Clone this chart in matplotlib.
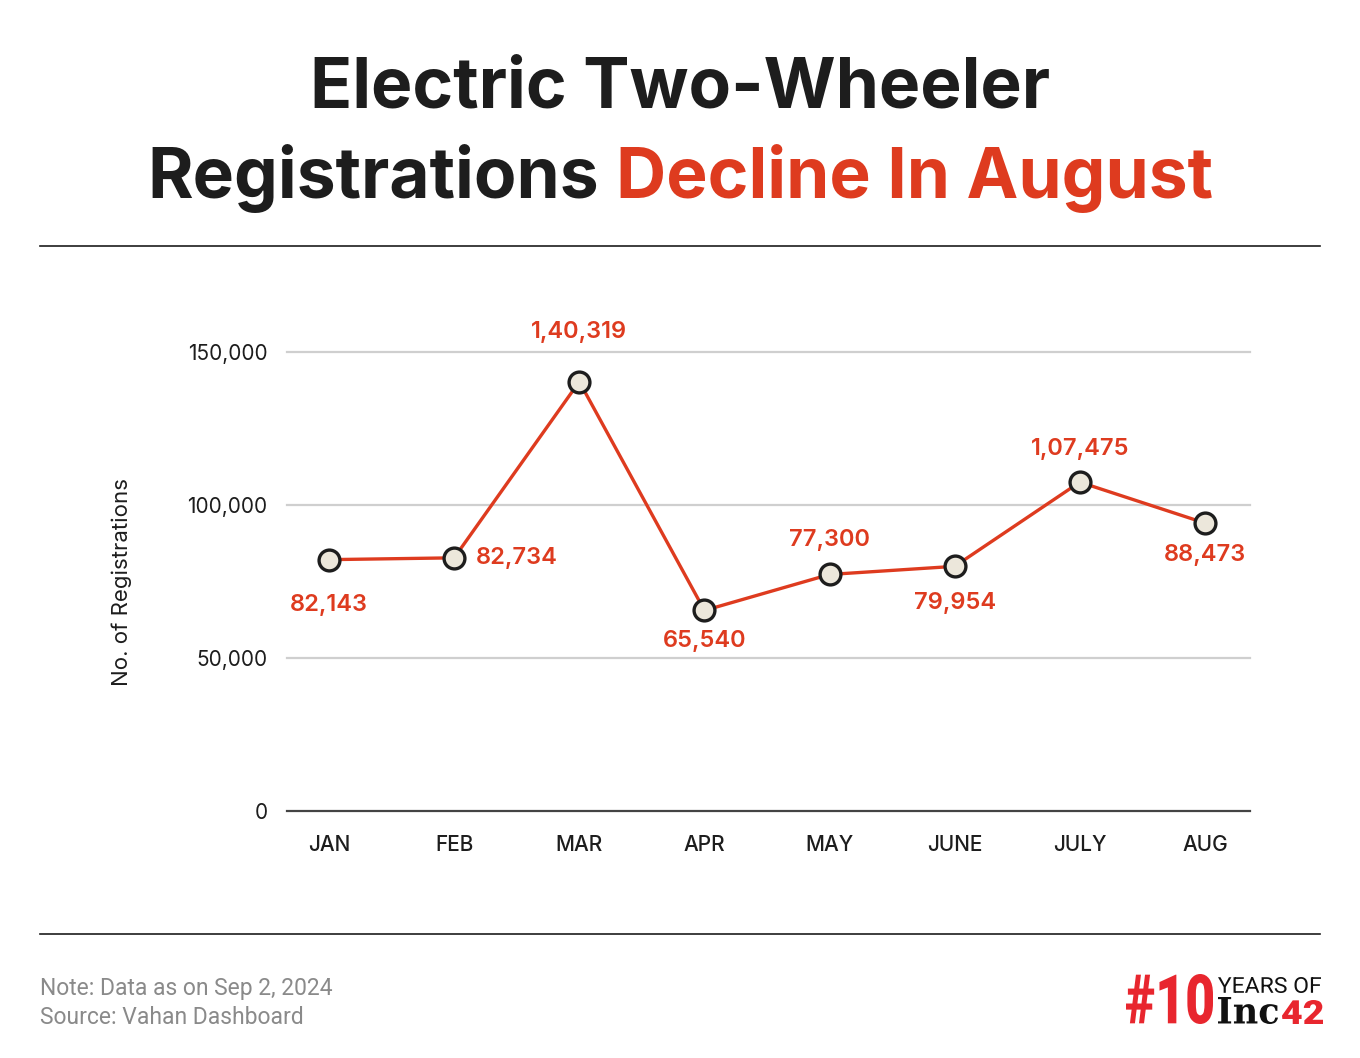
import numpy as np
import matplotlib.pyplot as plt
from matplotlib.textpath import TextPath
from matplotlib.patches import PathPatch
from matplotlib.font_manager import FontProperties
import matplotlib.transforms as mtransforms

months = ["JAN", "FEB", "MAR", "APR", "MAY", "JUNE", "JULY", "AUG"]
# plotted positions as they appear in the picture
values = [82143, 82734, 140319, 65540, 77300, 79954, 107475, 94100]
value_labels = ["82,143", "82,734", "1,40,319", "65,540", "77,300", "79,954", "1,07,475", "88,473"]
yticks = [0, 50000, 100000, 150000]
ytick_labels = ["0", "50,000", "100,000", "150,000"]

RED = "#DE3B1F"
DARK = "#1d1d1d"

plt.rcParams['font.family'] = ['Inter', 'DejaVu Sans']

W, H = 1360, 1058
fig = plt.figure(figsize=(W / 100, H / 100), dpi=100)
fig.patch.set_facecolor("white")

def fx(px):
    return px / W

def fy(py):
    return 1 - py / H

# title
fig.text(0.5, fy(108), "Electric Two-Wheeler", ha="center", va="baseline",
         fontsize=50, fontweight="bold", color=DARK)
t1 = fig.text(0, fy(198), "Registrations", ha="left", va="baseline",
              fontsize=50, fontweight="bold", color=DARK)
t2 = fig.text(0, fy(198), "Decline In August", ha="left", va="baseline",
              fontsize=50, fontweight="bold", color=RED)
fig.canvas.draw()
r = fig.canvas.get_renderer()
w1 = t1.get_window_extent(r).width
w2 = t2.get_window_extent(r).width
gap = 17
start = (W - (w1 + gap + w2)) / 2
t1.set_x(fx(start))
t2.set_x(fx(start + w1 + gap))

# rules
fig.add_artist(plt.Line2D([fx(40), fx(1320)], [fy(246), fy(246)], color=DARK, lw=1.2))
fig.add_artist(plt.Line2D([fx(40), fx(1320)], [fy(934), fy(934)], color=DARK, lw=1.2))

ax = fig.add_axes([fx(287), fy(811), fx(1250) - fx(287), fy(352) - fy(811)])
x = np.arange(len(months))
ax.set_xlim(-0.336, 7.36)
ax.set_ylim(0, 150000)
for s in ax.spines.values():
    s.set_visible(False)
for t in yticks[1:]:
    ax.axhline(t, color="#cfcfcf", lw=1.6, zorder=1, clip_on=False)
ax.axhline(0, color="#444444", lw=1.6, zorder=1, clip_on=False)

ax.plot(x, values, color=RED, lw=2.4, zorder=3, clip_on=False)
ax.plot(x, values, "o", ms=15, mfc="#ECE7DB", mec=DARK, mew=2.4, zorder=4, clip_on=False)

# label offsets in pixels
offsets = [(0, -45), (22, 0), (0, 50), (0, -31), (0, 34), (0, -37), (0, 33), (0, -32)]
for i, (v, lab) in enumerate(zip(values, value_labels)):
    dx, dy = offsets[i]
    ha = "left" if dx > 0 else "center"
    ax.annotate(lab, (x[i], v), xytext=(dx, dy),
                textcoords="offset pixels", ha=ha, va="center",
                fontsize=17, fontweight="semibold", color=RED)

ax.set_yticks(yticks)
ax.set_yticklabels(ytick_labels, fontsize=15, color=DARK)
ax.set_xticks(x)
ax.set_xticklabels(months, fontsize=15, fontweight="medium", color=DARK)
ax.tick_params(axis="both", length=0)
ax.tick_params(axis="y", pad=14)
ax.tick_params(axis="x", pad=17)
ax.set_ylabel("No. of Registrations", fontsize=16, color=DARK, labelpad=40)

# footer
fig.text(fx(40), fy(988), "Note: Data as on Sep 2, 2024", ha="left", va="center",
         fontsize=16.5, color="#8a8a8a", family=["Roboto", "DejaVu Sans"])
fig.text(fx(40), fy(1017), "Source: Vahan Dashboard", ha="left", va="center",
         fontsize=16.5, color="#8a8a8a", family=["Roboto", "DejaVu Sans"])

# logo: text paths squeezed into the boxes they take in the picture
def fit_text(s, left, top, right, bottom, color, family, weight):
    tp = TextPath((0, 0), s, size=1, prop=FontProperties(family=family, weight=weight))
    ext = tp.get_extents()
    tr = (mtransforms.Affine2D()
          .translate(-ext.x0, -ext.y0)
          .scale((right - left) / ext.width, (bottom - top) / ext.height)
          .translate(left, H - bottom)
          .scale(1 / W, 1 / H)) + fig.transFigure
    fig.add_artist(PathPatch(tp, transform=tr, color=color, lw=0))

fit_text("#10", 1126, 974, 1213, 1024, "#E8262E", "Roboto", "black")
fit_text("YEARS OF", 1218, 977, 1321, 993, "#111111", "Roboto", "normal")
fit_text("Inc", 1218, 997, 1278, 1024, "#111111", "DejaVu Serif", "bold")
fit_text("42", 1282, 1000, 1323, 1024, "#E8262E", "Roboto", "black")

fig.savefig("out.png", dpi=100, facecolor="white")
